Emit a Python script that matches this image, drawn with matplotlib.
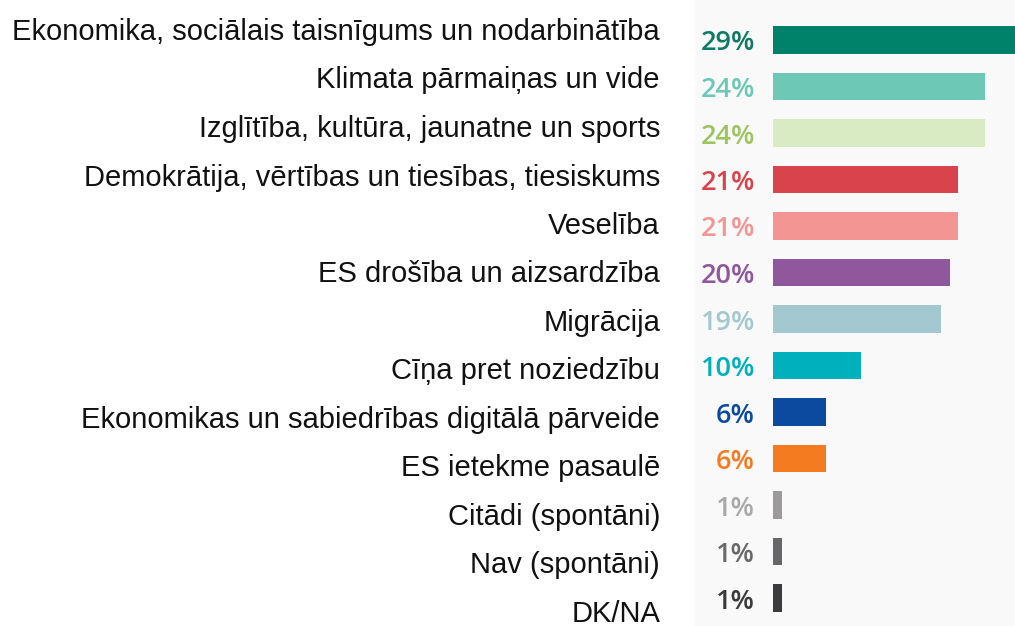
import matplotlib
matplotlib.use("Agg")
import matplotlib.pyplot as plt
from matplotlib.patches import Rectangle

categories = [
    "Ekonomika, sociālais taisnīgums un nodarbinātība",
    "Klimata pārmaiņas un vide",
    "Izglītība, kultūra, jaunatne un sports",
    "Demokrātija, vērtības un tiesības, tiesiskums",
    "Veselība",
    "ES drošība un aizsardzība",
    "Migrācija",
    "Cīņa pret noziedzību",
    "Ekonomikas un sabiedrības digitālā pārveide",
    "ES ietekme pasaulē",
    "Citādi (spontāni)",
    "Nav (spontāni)",
    "DK/NA",
]
values = [29, 24, 24, 21, 21, 20, 19, 10, 6, 6, 1, 1, 1]
bar_colors = [
    "#00826A", "#6DC8B5", "#D9EBC2", "#D9434C", "#F29593", "#8F579C",
    "#A4C8D0", "#00B0BC", "#0B4A9F", "#F47B20", "#9C9A9A", "#676769",
    "#3B3B3D",
]
label_colors = [
    "#0F7A63", "#6DC8B5", "#9DC45F", "#D9434C", "#F29593", "#8F579C",
    "#A4C8D0", "#00B0BC", "#0B4A9F", "#F47B20", "#A9A9A9", "#6A6A6A",
    "#3A3A3A",
]

W, H = 1015, 626
fig = plt.figure(figsize=(W / 100, H / 100), dpi=100)
fig.patch.set_facecolor("white")

# faint panel behind the value labels and bars
panel = Rectangle((695 / W, 0), (W - 695) / W, 1, transform=fig.transFigure,
                  facecolor="#f9f9f9", edgecolor="none", zorder=-5)
fig.add_artist(panel)

n = len(categories)
pos = list(range(n))

# bar axes: value 0 sits at x=773 px
x0 = 773
ax = fig.add_axes([x0 / W, 0, (W - x0) / W, 1], zorder=2)
ax.set_facecolor("none")
px_per_unit = 8.83
ax.set_xlim(0, (W - x0) / px_per_unit)
step = 46.5
top = 40
ax.set_ylim((H - top) / step, -top / step)
ax.barh(pos, values, height=0.6, color=bar_colors)
for s in ax.spines.values():
    s.set_visible(False)
ax.set_xticks([])
ax.set_yticks(pos)
ax.set_yticklabels([f"{v}%" for v in values], fontsize=19.5,
                   family=["Open Sans", "DejaVu Sans"], fontweight="semibold")
for t, c in zip(ax.get_yticklabels(), label_colors):
    t.set_color(c)
ax.tick_params(axis="y", length=0, pad=13)

# category labels on the left, own vertical spacing
ax2 = fig.add_axes([0, 0, 660 / W, 1], zorder=1)
ax2.set_facecolor("none")
lstep = 48.5
ltop = 29
ax2.set_ylim((H - ltop) / lstep, -ltop / lstep)
ax2.set_xlim(0, 1)
for s in ax2.spines.values():
    s.set_visible(False)
ax2.set_xticks([])
ax2.yaxis.tick_right()
ax2.set_yticks(pos)
ax2.set_yticklabels(categories, fontsize=21, family=["Liberation Sans", "DejaVu Sans"],
                    ha="right", color="#111111")
ax2.tick_params(axis="y", length=0, pad=0)

fig.savefig("out.png", dpi=100)
